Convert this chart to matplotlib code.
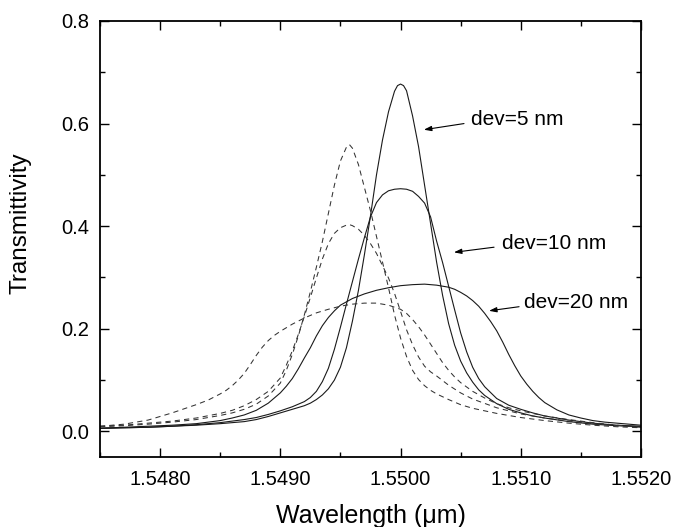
import matplotlib
matplotlib.use("Agg")
import matplotlib.pyplot as plt
from matplotlib.ticker import MultipleLocator, FormatStrFormatter

# ---------------- data ----------------
# solid curves
s5_wl = [1.5475, 1.5477, 1.5479, 1.5481, 1.5483, 1.5485, 1.5486, 1.5487, 1.5488, 1.5489,
         1.5490, 1.5491, 1.5492, 1.54925, 1.5493, 1.54935, 1.5494, 1.54945, 1.5495, 1.54955,
         1.5496, 1.54965, 1.5497, 1.54975, 1.5498, 1.54985, 1.5499, 1.54995, 1.549975, 1.5500,
         1.550025, 1.55005, 1.5501, 1.55015, 1.5502, 1.55025, 1.5503, 1.55035, 1.5504, 1.55045,
         1.5505, 1.55055, 1.5506, 1.55065, 1.5507, 1.5508, 1.5509, 1.5510, 1.5511, 1.5512,
         1.5514, 1.5516, 1.5518, 1.5520]
s5_t = [0.006, 0.007, 0.008, 0.010, 0.012, 0.015, 0.017, 0.019, 0.023, 0.029,
        0.036, 0.043, 0.050, 0.055, 0.062, 0.071, 0.083, 0.100, 0.125, 0.163,
        0.215, 0.275, 0.345, 0.420, 0.500, 0.568, 0.623, 0.663, 0.674, 0.677,
        0.674, 0.664, 0.615, 0.555, 0.480, 0.405, 0.330, 0.265, 0.210, 0.168,
        0.137, 0.114, 0.096, 0.081, 0.070, 0.054, 0.043, 0.036, 0.030, 0.026,
        0.019, 0.014, 0.011, 0.009]

s10_wl = [1.5475, 1.5477, 1.5479, 1.5481, 1.5483, 1.5485, 1.5486, 1.5487, 1.5488, 1.5489,
          1.5490, 1.5491, 1.5492, 1.54925, 1.5493, 1.54935, 1.5494, 1.54945, 1.5495, 1.54955,
          1.5496, 1.54965, 1.5497, 1.54975, 1.5498, 1.54985, 1.5499, 1.54995, 1.5500, 1.55005,
          1.5501, 1.55015, 1.5502, 1.55025, 1.5503, 1.55035, 1.5504, 1.55045, 1.5505, 1.55055,
          1.5506, 1.55065, 1.5507, 1.5508, 1.5509, 1.5510, 1.5511, 1.5512, 1.5514, 1.5516,
          1.5518, 1.5520]
s10_t = [0.006, 0.007, 0.008, 0.010, 0.013, 0.017, 0.020, 0.023, 0.027, 0.033,
         0.040, 0.048, 0.058, 0.066, 0.078, 0.097, 0.123, 0.160, 0.203, 0.248,
         0.292, 0.336, 0.378, 0.418, 0.446, 0.461, 0.469, 0.472, 0.473, 0.472,
         0.468, 0.458, 0.445, 0.418, 0.371, 0.329, 0.283, 0.237, 0.192, 0.155,
         0.125, 0.103, 0.087, 0.064, 0.051, 0.043, 0.036, 0.030, 0.022, 0.016,
         0.012, 0.010]

s20_wl = [1.5475, 1.5477, 1.5479, 1.5481, 1.5483, 1.5485, 1.5486, 1.5487, 1.5488, 1.5489,
          1.5490, 1.54905, 1.5491, 1.54915, 1.5492, 1.54925, 1.5493, 1.54935, 1.5494, 1.54945,
          1.5495, 1.5496, 1.5497, 1.5498, 1.5499, 1.5500, 1.5501, 1.5502, 1.5503, 1.5504,
          1.55045, 1.5505, 1.55055, 1.5506, 1.55065, 1.5507, 1.55075, 1.5508, 1.55085, 1.5509,
          1.55095, 1.5510, 1.55105, 1.5511, 1.55115, 1.5512, 1.5513, 1.5514, 1.5515, 1.5516,
          1.5517, 1.5518, 1.5520]
s20_t = [0.006, 0.008, 0.010, 0.012, 0.015, 0.021, 0.026, 0.032, 0.041, 0.055,
         0.075, 0.088, 0.103, 0.122, 0.143, 0.163, 0.186, 0.206, 0.222, 0.235,
         0.246, 0.259, 0.268, 0.275, 0.280, 0.284, 0.286, 0.287, 0.285, 0.281,
         0.277, 0.271, 0.264, 0.255, 0.244, 0.230, 0.214, 0.196, 0.174, 0.150,
         0.128, 0.108, 0.092, 0.078, 0.066, 0.056, 0.042, 0.032, 0.026, 0.021,
         0.018, 0.016, 0.012]

# dashed curves
d_wl = [1.5475, 1.5477, 1.5479, 1.5481, 1.5483, 1.5485, 1.5486, 1.5487, 1.5488, 1.5489,
        1.5490, 1.54905, 1.5491, 1.54915, 1.5492, 1.54925, 1.5493, 1.54935, 1.5494, 1.54945,
        1.5495, 1.54955, 1.549575, 1.5496, 1.54965, 1.5497, 1.54975, 1.5498, 1.54985, 1.5499,
        1.54995, 1.5500, 1.55005, 1.5501, 1.55015, 1.5502, 1.55025, 1.5503, 1.5504, 1.5505,
        1.5506, 1.5508, 1.5510, 1.5512, 1.5514, 1.5516, 1.5518, 1.5520]
d5_t = [0.009, 0.011, 0.014, 0.018, 0.023, 0.031, 0.036, 0.043, 0.053, 0.069,
        0.094, 0.119, 0.150, 0.186, 0.227, 0.272, 0.320, 0.370, 0.425, 0.480,
        0.527, 0.554, 0.559, 0.552, 0.520, 0.475, 0.430, 0.380, 0.330, 0.280,
        0.227, 0.182, 0.146, 0.119, 0.101, 0.089, 0.080, 0.073, 0.062, 0.052,
        0.045, 0.035, 0.027, 0.021, 0.016, 0.012, 0.009, 0.007]
d10_t = [0.010, 0.012, 0.016, 0.020, 0.026, 0.035, 0.041, 0.050, 0.062, 0.078,
         0.104, 0.129, 0.157, 0.189, 0.224, 0.261, 0.299, 0.336, 0.366, 0.386,
         0.397, 0.402, 0.403, 0.401, 0.394, 0.382, 0.366, 0.347, 0.323, 0.299,
         0.269, 0.234, 0.198, 0.169, 0.145, 0.127, 0.116, 0.108, 0.090, 0.075,
         0.063, 0.046, 0.034, 0.026, 0.020, 0.015, 0.011, 0.008]

d20_wl = [1.5475, 1.5477, 1.5479, 1.5480, 1.5481, 1.5482, 1.5483, 1.5484, 1.5485, 1.54855,
          1.5486, 1.54865, 1.5487, 1.54875, 1.5488, 1.54885, 1.5489, 1.54895, 1.5490, 1.5491,
          1.5492, 1.5493, 1.5494, 1.5495, 1.5496, 1.5497, 1.5498, 1.5499, 1.5500, 1.55005,
          1.5501, 1.55015, 1.5502, 1.55025, 1.5503, 1.55035, 1.5504, 1.55045, 1.5505, 1.5506,
          1.5507, 1.5508, 1.5509, 1.5510, 1.5511, 1.5512, 1.5514, 1.5516, 1.5518, 1.5520]
d20_t = [0.010, 0.014, 0.022, 0.029, 0.036, 0.044, 0.052, 0.061, 0.073, 0.080,
         0.089, 0.100, 0.113, 0.130, 0.148, 0.164, 0.177, 0.187, 0.195, 0.209,
         0.221, 0.231, 0.238, 0.244, 0.248, 0.250, 0.250, 0.246, 0.238, 0.230,
         0.218, 0.204, 0.188, 0.170, 0.152, 0.134, 0.119, 0.106, 0.095, 0.078,
         0.065, 0.054, 0.046, 0.040, 0.035, 0.030, 0.023, 0.017, 0.012, 0.008]

labels = ["dev=5 nm", "dev=10 nm", "dev=20 nm"]

# ---------------- figure ----------------
plt.rcParams['font.family'] = ['Liberation Sans', 'DejaVu Sans']
fig = plt.figure(figsize=(6.75, 5.27), dpi=100)
ax = fig.add_axes([0.1481, 0.1328, 0.8015, 0.8274])

for wl, t in [(s5_wl, s5_t), (s10_wl, s10_t), (s20_wl, s20_t)]:
    ax.plot(wl, t, color='#1a1a1a', lw=0.8, solid_joinstyle='round')
for wl, t in [(d_wl, d5_t), (d_wl, d10_t), (d20_wl, d20_t)]:
    ax.plot(wl, t, color='#333333', lw=0.75, linestyle=(0, (5, 4)))

ax.set_xlim(1.5475, 1.5520)
ax.set_ylim(-0.05, 0.8)
ax.xaxis.set_major_locator(MultipleLocator(0.001))
ax.xaxis.set_minor_locator(MultipleLocator(0.0005))
ax.xaxis.set_major_formatter(FormatStrFormatter('%.4f'))
ax.yaxis.set_major_locator(MultipleLocator(0.2))
ax.yaxis.set_minor_locator(MultipleLocator(0.1))
ax.yaxis.set_major_formatter(FormatStrFormatter('%.1f'))

ax.tick_params(which='both', direction='in', top=True, right=True, width=1.0)
ax.tick_params(which='major', length=6.5, labelsize=14.5)
ax.tick_params(axis='x', which='major', pad=9)
ax.tick_params(axis='y', which='major', pad=8)
ax.tick_params(which='minor', length=3.6)
for sp in ax.spines.values():
    sp.set_linewidth(1.3)

ax.set_xlabel('Wavelength (μm)', fontsize=18, labelpad=11)
ax.set_ylabel('Transmittivity', fontsize=17.5)
ax.yaxis.set_label_coords(-0.127, 0.537)

# annotations: (text pos, arrow tail, arrow head)
ann = [((1.550583, 0.607), (1.550528, 0.600), (1.550194, 0.588)),
       ((1.550848, 0.367), (1.550778, 0.359), (1.550444, 0.349)),
       ((1.551028, 0.251), (1.550986, 0.243), (1.550736, 0.235))]
for lab, (tp, tail, head) in zip(labels, ann):
    ax.text(tp[0], tp[1], lab, fontsize=15, ha='left', va='center')
    ax.annotate('', xy=head, xytext=tail,
                arrowprops=dict(arrowstyle='-|>,head_length=0.45,head_width=0.15',
                                color='k', lw=0.8, shrinkA=0, shrinkB=0))

fig.savefig('out.png', dpi=100)
